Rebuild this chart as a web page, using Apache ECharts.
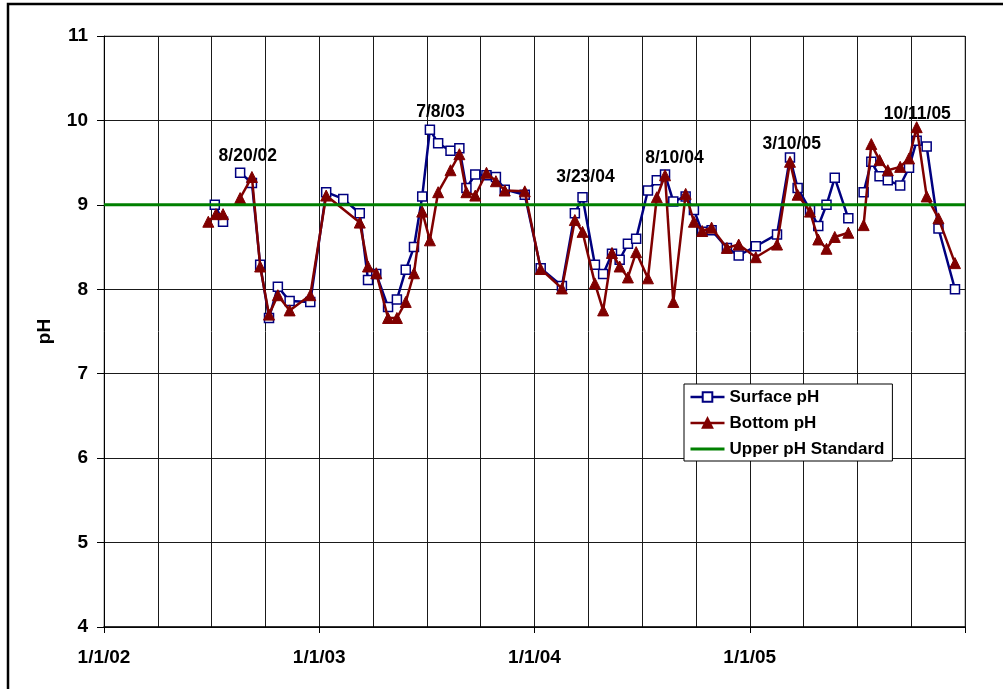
<!DOCTYPE html>
<html>
<head>
<meta charset="utf-8">
<script src="https://cdn.jsdelivr.net/npm/echarts@6/dist/echarts.min.js"></script>
<style>
html,body{margin:0;padding:0;background:#fff;}
#chart{width:1003px;height:689px;}
</style>
</head>
<body>
<div id="chart"></div>
<script>
// ---- data ----
const surfaceDates = ['2002-07-08','2002-07-22','2002-08-05','2002-08-20','2002-09-09','2002-09-23','2002-10-08','2002-10-23','2002-11-12','2002-12-17',
  '2003-01-13','2003-02-11','2003-03-11','2003-03-25','2003-04-08','2003-04-28','2003-05-13','2003-05-28','2003-06-11','2003-06-25',
  '2003-07-08','2003-07-22','2003-08-12','2003-08-27','2003-09-08','2003-09-23','2003-10-12','2003-10-28','2003-11-12','2003-12-16',
  '2004-01-12','2004-02-17','2004-03-10','2004-03-23','2004-04-13','2004-04-27','2004-05-12','2004-05-25','2004-06-08','2004-06-22',
  '2004-07-12','2004-07-27','2004-08-10','2004-08-24','2004-09-14','2004-09-28','2004-10-12','2004-10-28','2004-11-23','2004-12-13',
  '2005-01-11','2005-02-16','2005-03-10','2005-03-23','2005-04-13','2005-04-27','2005-05-11','2005-05-25','2005-06-17','2005-07-01',
  '2005-07-13','2005-07-26','2005-08-09','2005-08-23','2005-09-13','2005-09-28','2005-10-11','2005-10-28','2005-11-17','2005-12-15'];
const surfaceValues = [9.00,8.80,null,9.38,9.26,8.29,7.66,8.03,7.86,7.85,
  9.15,9.07,8.90,8.11,8.18,7.79,7.88,8.23,8.50,9.10,
  9.89,9.73,9.64,9.67,9.20,9.36,9.35,9.33,9.18,9.12,
  8.25,8.04,8.90,9.09,8.29,8.18,8.42,8.35,8.54,8.60,
  9.17,9.29,9.36,9.04,9.10,8.94,8.68,8.70,8.49,8.40,
  8.51,8.65,9.56,9.20,8.94,8.75,9.00,9.32,8.84,null,
  9.15,9.51,9.34,9.29,9.23,9.44,9.76,9.69,8.72,8.00];

const bottomDates = ['2002-06-27','2002-07-10','2002-07-22','2002-08-05','2002-08-20','2002-09-09','2002-09-23','2002-10-08','2002-10-23','2002-11-12','2002-12-17',
  '2003-01-13','2003-03-11','2003-03-25','2003-04-08','2003-04-28','2003-05-13','2003-05-28','2003-06-11','2003-06-25',
  '2003-07-08','2003-07-22','2003-08-12','2003-08-27','2003-09-08','2003-09-23','2003-10-12','2003-10-28','2003-11-12','2003-12-16',
  '2004-01-12','2004-02-17','2004-03-10','2004-03-23','2004-04-13','2004-04-27','2004-05-12','2004-05-25','2004-06-08','2004-06-22',
  '2004-07-12','2004-07-27','2004-08-10','2004-08-24','2004-09-14','2004-09-28','2004-10-12','2004-10-28','2004-11-23','2004-12-13',
  '2005-01-11','2005-02-16','2005-03-10','2005-03-23','2005-04-13','2005-04-27','2005-05-11','2005-05-25','2005-06-17','2005-07-01',
  '2005-07-13','2005-07-26','2005-08-09','2005-08-23','2005-09-13','2005-09-28','2005-10-11','2005-10-28','2005-11-17','2005-12-15'];
const bottomValues = [8.80,8.89,8.89,null,9.08,9.33,8.27,7.70,7.93,7.75,7.93,
  9.11,8.79,8.27,8.19,7.66,7.66,7.85,8.19,8.92,
  8.58,9.15,9.41,9.60,9.15,9.11,9.38,9.28,9.17,9.16,
  8.24,8.01,8.82,8.68,8.07,7.75,8.43,8.27,8.14,8.44,
  8.13,9.09,9.35,7.85,9.13,8.80,8.69,8.73,8.49,8.53,
  8.38,8.53,9.51,9.12,8.92,8.59,8.48,8.62,8.67,null,
  8.76,9.72,9.53,9.41,9.45,9.55,9.92,9.10,8.84,8.31];

const standardDates = ['2002-01-01','2006-01-01'];
const standardValues = [9, 9];

const annotationTexts = ['8/20/02','7/8/03','3/23/04','8/10/04','3/10/05','10/11/05'];
const annotationDates = ['2002-09-02','2003-07-26','2004-03-28','2004-08-26','2005-03-13','2005-10-12'];
const annotationValues = [9.58,10.10,9.33,9.55,9.72,10.08];

const xTickLabels = ['1/1/02','1/1/03','1/1/04','1/1/05'];
const xStart = '2002-01-01';
const xEnd = '2006-01-01';

// ---- helpers ----
function dayNum(s){
  const p = s.split('-').map(Number);
  const b = xStart.split('-').map(Number);
  return (Date.UTC(p[0],p[1]-1,p[2]) - Date.UTC(b[0],b[1]-1,b[2]))/86400000;
}
function pairs(dates, vals){ return dates.map((d,i)=>[dayNum(d), vals[i]]); }

const xMax = dayNum(xEnd);            // 1461
const quarter = xMax/16;              // 91.3125
const year = xMax/4;                  // 365.25
const FONT = '"Liberation Sans", Arial, sans-serif';

const borderRect = {
  type:'rect', silent:true, z:-1,
  shape:{x:8, y:4, width:1200, height:1000},
  style:{fill:'none', stroke:'#000', lineWidth:2.5}
};

const chart = echarts.init(document.getElementById('chart'), null, {renderer:'canvas'});
chart.setOption({
  animation:false,
  backgroundColor:'#fff',
  textStyle:{fontFamily:FONT},
  graphic:[borderRect],
  grid:{left:104, right:38, top:36, bottom:62, show:true, borderColor:'#888', borderWidth:1, backgroundColor:'transparent'},
  legend:{
    data:[
      {name:'Surface pH', lineStyle:{width:2.5}},
      {name:'Bottom pH', lineStyle:{width:2.5}},
      {name:'Upper pH Standard', itemStyle:{opacity:0}, lineStyle:{width:3}}
    ],
    orient:'vertical', left:684, top:384,
    padding:[4,8,3,5],
    itemWidth:34, itemHeight:12, itemGap:8,
    borderColor:'#000', borderWidth:1, backgroundColor:'#fff',
    textStyle:{fontSize:17, fontWeight:'bold', color:'#000', fontFamily:FONT, lineHeight:18}
  },
  xAxis:[{
    type:'value', min:0, max:xMax, interval:quarter,
    axisLine:{show:false}, axisTick:{show:false}, axisLabel:{show:false},
    splitLine:{show:true, lineStyle:{color:'#1a1a1a', width:1}}
  },{
    type:'value', min:0, max:xMax, interval:year, position:'bottom',
    axisLine:{show:true, lineStyle:{color:'#000', width:1.5}},
    axisTick:{show:true, inside:false, length:6, lineStyle:{color:'#000'}},
    splitLine:{show:false},
    axisLabel:{
      margin:21, fontSize:19, fontWeight:'bold', color:'#000', fontFamily:FONT,
      formatter:function(v){ const i=Math.round(v/year); return i<xTickLabels.length?xTickLabels[i]:''; }
    }
  }],
  yAxis:{
    type:'value', min:4, max:11, interval:1,
    name:'pH', nameLocation:'middle', nameGap:50, nameRotate:90,
    nameTextStyle:{fontSize:19, fontWeight:'bold', color:'#000', fontFamily:FONT},
    axisLine:{show:true, lineStyle:{color:'#000', width:1}},
    axisTick:{show:true, inside:false, length:7, lineStyle:{color:'#000'}},
    axisLabel:{margin:16, fontSize:19, fontWeight:'bold', color:'#000', fontFamily:FONT},
    splitLine:{show:true, lineStyle:{color:'#1a1a1a', width:1}}
  },
  series:[{
    name:'Surface pH', type:'line', xAxisIndex:0,
    data:pairs(surfaceDates, surfaceValues),
    connectNulls:false,
    symbol:'rect', symbolSize:9, showAllSymbol:true,
    lineStyle:{color:'#000080', width:2.5},
    itemStyle:{color:'#fff', borderColor:'#000080', borderWidth:1.5},
    z:3
  },{
    name:'Bottom pH', type:'line', xAxisIndex:0,
    data:pairs(bottomDates, bottomValues),
    connectNulls:false,
    symbol:'triangle', symbolSize:11, showAllSymbol:true,
    lineStyle:{color:'#800000', width:2.5},
    itemStyle:{color:'#800000', borderColor:'#800000', borderWidth:1},
    z:4
  },{
    name:'Upper pH Standard', type:'line', xAxisIndex:0,
    data:pairs(standardDates, standardValues),
    symbol:'none', showSymbol:false,
    lineStyle:{color:'#008000', width:3},
    itemStyle:{color:'#008000'},
    z:5
  }]
});

// date annotations placed through the axes' scales
const annotationPts = pairs(annotationDates, annotationValues);
const annotationGraphics = annotationPts.map(function(pt, i){
  const px = chart.convertToPixel({xAxisIndex:0, yAxisIndex:0}, pt);
  return {
    type:'text', silent:true, z:10, x:px[0], y:px[1],
    style:{text:annotationTexts[i], fill:'#000', font:'bold 17.5px ' + FONT, align:'center', verticalAlign:'middle'}
  };
});
chart.setOption({graphic:[borderRect].concat(annotationGraphics)});
</script>
</body>
</html>
